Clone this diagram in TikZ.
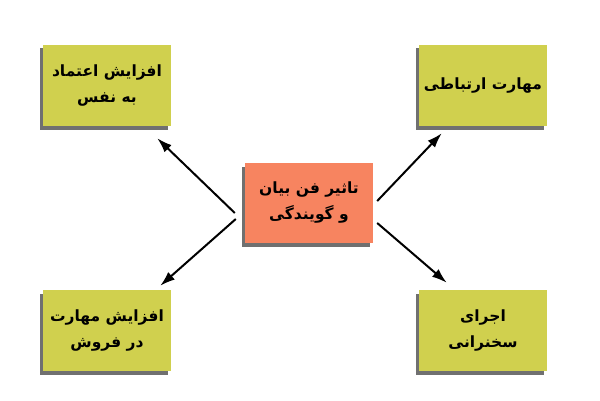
\documentclass[tikz,border=0pt]{standalone}
\usepackage{fontspec}
\newfontfamily\arabicfont[Script=Arabic]{DejaVu Sans}
\TeXXeTstate=1
\usetikzlibrary{arrows.meta,shadows}
\definecolor{boxgreen}{RGB}{208,208,78}
\definecolor{boxsalmon}{RGB}{247,132,96}
\tikzset{
  topicbox/.style={draw=none, fill=boxgreen, minimum width=128pt, minimum height=81pt,
    inner sep=0pt, align=center, font=\arabicfont\bfseries\fontsize{15.5}{26}\selectfont,
    drop shadow={shadow xshift=-3.5pt, shadow yshift=-3.5pt, fill=black!75, opacity=0.75}},
  mainbox/.style={topicbox, fill=boxsalmon, minimum height=80pt},
  link/.style={-{Latex[length=15pt,width=10pt]}, line width=2pt}
}
\begin{document}
\begin{tikzpicture}[x=1pt,y=1pt]
		\useasboundingbox (0,0) rectangle (600,400); % page size
		\node[mainbox] (center) at (309,197) {\beginR تاثیر فن بیان\endR\\\beginR و گویندگی\endR};
		\node[topicbox] (tl) at (107,314.5) {\beginR افزایش اعتماد\endR\\\beginR به نفس\endR};
		\node[topicbox] (tr) at (483,314.5) {\beginR مهارت ارتباطی\endR};
		\node[topicbox] (bl) at (107,69.5) {\beginR افزایش مهارت\endR\\\beginR در فروش\endR};
		\node[topicbox] (br) at (483,69.5) {\beginR اجرای\endR\\\beginR سخنرانی\endR};
		% arrows out of the centre
		\draw[link] ([xshift=-10pt,yshift=-10pt]center.west) -- ([xshift=-14pt,yshift=-12pt]tl.south east);
		\draw[link] ([xshift=4pt,yshift=2pt]center.east) -- ([xshift=23pt,yshift=-7pt]tr.south west);
		\draw[link] ([xshift=-9pt,yshift=-16pt]center.west) -- ([xshift=-11pt,yshift=4pt]bl.north east);
		\draw[link] ([xshift=4pt,yshift=-20pt]center.east) -- ([xshift=28pt,yshift=7pt]br.north west);
	\end{tikzpicture}
\end{document}
